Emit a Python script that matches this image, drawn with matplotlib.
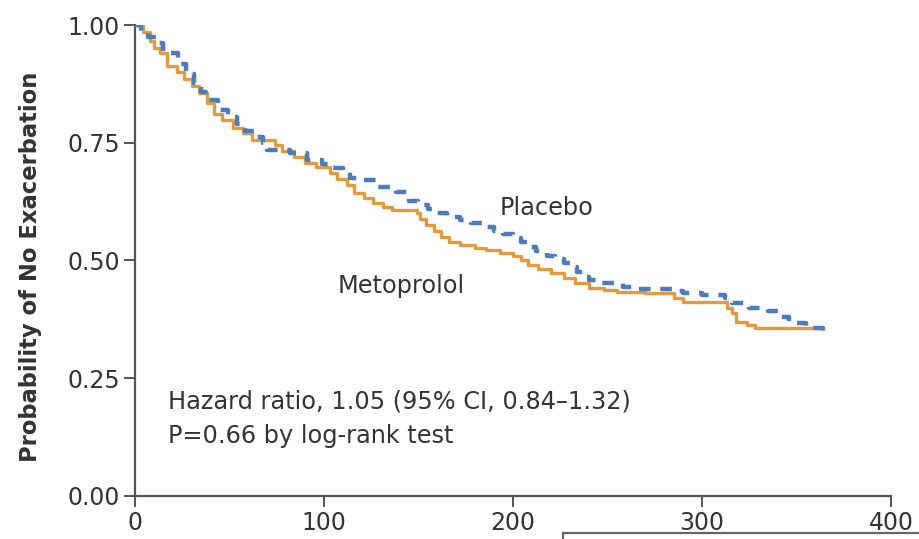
import matplotlib.pyplot as plt
from matplotlib.lines import Line2D

# Kaplan-Meier curves (days, probability of no exacerbation)
meto_days = [0, 4, 8, 10, 13, 17, 22, 26, 30, 34, 38, 42, 46, 52, 57, 62, 74, 78, 84, 90,
             96, 103, 107, 112, 116, 121, 126, 131, 136, 149, 151, 154, 158, 162, 166, 172,
             180, 186, 193, 200, 204, 208, 213, 220, 227, 233, 240, 248, 255, 270, 285, 290,
             313, 316, 318, 324, 328, 364]
meto_prob = [1.0, 0.985, 0.965, 0.952, 0.940, 0.912, 0.900, 0.885, 0.870, 0.855, 0.835, 0.812,
             0.798, 0.782, 0.770, 0.756, 0.745, 0.732, 0.720, 0.708, 0.698, 0.685, 0.672, 0.660,
             0.643, 0.632, 0.622, 0.613, 0.607, 0.600, 0.588, 0.575, 0.562, 0.550, 0.540, 0.532,
             0.527, 0.522, 0.516, 0.510, 0.500, 0.490, 0.482, 0.473, 0.463, 0.452, 0.442, 0.437,
             0.433, 0.431, 0.420, 0.411, 0.400, 0.388, 0.370, 0.362, 0.356, 0.355]

plac_days = [0, 3, 7, 11, 15, 19, 23, 27, 31, 35, 39, 44, 49, 54, 58, 63, 68, 70, 82, 91,
             99, 105, 110, 114, 119, 128, 138, 145, 150, 155, 160, 165, 172, 178, 184, 190,
             195, 200, 204, 208, 212, 218, 222, 227, 231, 234, 237, 240, 246, 258, 265, 285,
             290, 300, 312, 316, 325, 335, 342, 346, 355, 364]
plac_prob = [1.0, 0.985, 0.975, 0.962, 0.950, 0.940, 0.918, 0.895, 0.877, 0.858, 0.840, 0.820,
             0.805, 0.790, 0.776, 0.762, 0.749, 0.735, 0.728, 0.713, 0.705, 0.697, 0.688, 0.675,
             0.670, 0.656, 0.645, 0.626, 0.618, 0.610, 0.600, 0.592, 0.586, 0.580, 0.571, 0.563,
             0.556, 0.548, 0.540, 0.528, 0.520, 0.510, 0.503, 0.495, 0.486, 0.476, 0.466, 0.458,
             0.452, 0.444, 0.439, 0.435, 0.431, 0.427, 0.420, 0.410, 0.400, 0.392, 0.380, 0.367,
             0.357, 0.346]

x_ticks = [0, 100, 200, 300, 400]
y_ticks = [0.00, 0.25, 0.50, 0.75, 1.00]

plt.rcParams['font.family'] = ['DejaVu Sans']

fig = plt.figure(figsize=(9.2, 5.39), dpi=100)
ax = fig.add_axes([0.1467, 0.0798, 0.8217, 0.8738])

ax.plot(meto_days, meto_prob, drawstyle='steps-post', color='#E39A3B', lw=2.4, zorder=2)
ax.plot(plac_days, plac_prob, drawstyle='steps-post', color='#4A7CC0', lw=3.2,
        dashes=(2.6, 2.2), zorder=3)

ax.set_xlim(0, 400)
ax.set_ylim(0, 1.0)
ax.set_xticks(x_ticks)
ax.set_yticks(y_ticks)
ax.set_yticklabels([f'{v:.2f}' for v in y_ticks])
for s in ['top', 'right']:
    ax.spines[s].set_visible(False)
for s in ['left', 'bottom']:
    ax.spines[s].set_color('#555555')
    ax.spines[s].set_linewidth(1.6)
ax.tick_params(direction='out', length=8, width=1.4, color='#555555',
               labelsize=17, labelcolor='#333333', pad=3)

ax.set_ylabel('Probability of No Exacerbation', fontsize=16.3, fontweight='bold',
              color='#333333')
ax.yaxis.set_label_coords(-0.123, 0.486)

ax.text(193, 0.611, 'Placebo', fontsize=17.3, color='#333333', va='center')
ax.text(107, 0.446, 'Metoprolol', fontsize=17.3, color='#333333', va='center')
ax.text(17.5, 0.200, 'Hazard ratio, 1.05 (95% CI, 0.84\u20131.32)', fontsize=17.3,
        color='#333333', va='center')
ax.text(17.5, 0.127, 'P=0.66 by log-rank test', fontsize=17.3, color='#333333', va='center')

# edge of the neighbouring panel cut into the bottom of the picture
fig.add_artist(Line2D([0.612, 1.0], [0.011, 0.011], color='#666666', lw=1.6))
fig.add_artist(Line2D([0.612, 0.612], [0.0, 0.011], color='#666666', lw=1.6))

fig.savefig('out.png', dpi=100)
